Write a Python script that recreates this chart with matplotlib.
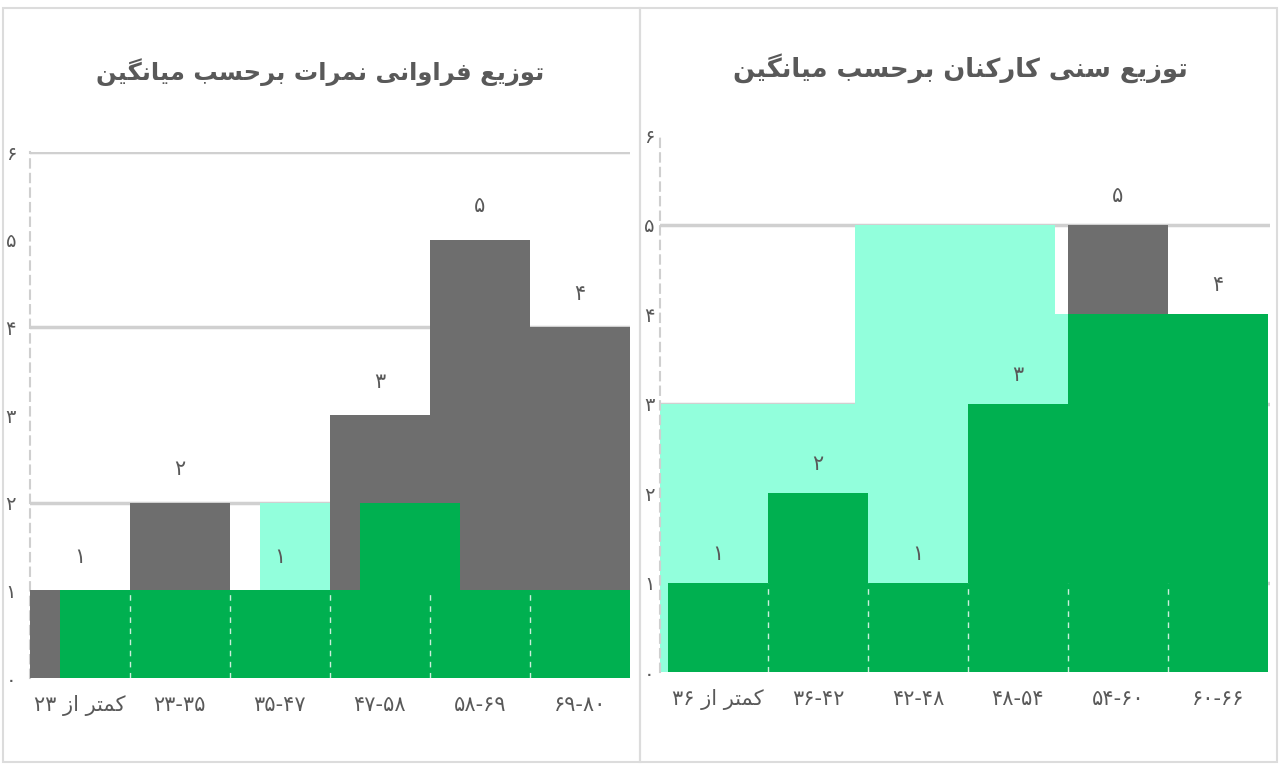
import re
import numpy as np
import matplotlib
matplotlib.use("Agg")
import matplotlib.pyplot as plt
from matplotlib.patches import Rectangle

# ---- data ----
left_title = "توزیع فراوانی نمرات برحسب میانگین"
right_title = "توزیع سنی کارکنان برحسب میانگین"
left_cats = ["کمتر از ۲۳", "۲۳-۳۵", "۳۵-۴۷", "۴۷-۵۸", "۵۸-۶۹", "۶۹-۸۰"]
right_cats = ["کمتر از ۳۶", "۳۶-۴۲", "۴۲-۴۸", "۴۸-۵۴", "۵۴-۶۰", "۶۰-۶۶"]

left_gray = [1, 2, 1, 3, 5, 4]
left_mint = [1, 1, 2, 1, 1, 1]
left_green = [1, 1, 1, 2, 1, 1]

right_gray = [1, 2, 1, 3, 5, 4]
right_mint = [3, 5, 4]
right_green = [1, 2, 1, 3, 4, 4]

yticks = [0, 1, 2, 3, 4, 5, 6]

GRAY = "#6e6e6e"
GREEN = "#00b050"
MINT = "#92ffdc"
TXT = "#595959"

# ---- minimal persian shaping (no bidi lib available) ----
DUAL = {
    'ب': '\uFE8F\uFE90\uFE91\uFE92', 'پ': '\uFB56\uFB57\uFB58\uFB59',
    'ت': '\uFE95\uFE96\uFE97\uFE98', 'ث': '\uFE99\uFE9A\uFE9B\uFE9C',
    'ج': '\uFE9D\uFE9E\uFE9F\uFEA0', 'چ': '\uFB7A\uFB7B\uFB7C\uFB7D',
    'ح': '\uFEA1\uFEA2\uFEA3\uFEA4', 'خ': '\uFEA5\uFEA6\uFEA7\uFEA8',
    'س': '\uFEB1\uFEB2\uFEB3\uFEB4', 'ش': '\uFEB5\uFEB6\uFEB7\uFEB8',
    'ع': '\uFEC9\uFECA\uFECB\uFECC', 'ف': '\uFED1\uFED2\uFED3\uFED4',
    'ق': '\uFED5\uFED6\uFED7\uFED8', 'ک': '\uFB8E\uFB8F\uFB90\uFB91',
    'گ': '\uFB92\uFB93\uFB94\uFB95', 'ل': '\uFEDD\uFEDE\uFEDF\uFEE0',
    'م': '\uFEE1\uFEE2\uFEE3\uFEE4', 'ن': '\uFEE5\uFEE6\uFEE7\uFEE8',
    'ه': '\uFEE9\uFEEA\uFEEB\uFEEC', 'ی': '\uFBFC\uFBFD\uFBFE\uFBFF',
}
RIGHT = {
    'ا': '\uFE8D\uFE8E', 'آ': '\uFE81\uFE82', 'د': '\uFEA9\uFEAA',
    'ذ': '\uFEAB\uFEAC', 'ر': '\uFEAD\uFEAE', 'ز': '\uFEAF\uFEB0',
    'ژ': '\uFB8A\uFB8B', 'و': '\uFEED\uFEEE',
}


def fa(text):
    out = []
    i = 0
    while i < len(text):
        c = text[i]
        prev = text[i - 1] if i > 0 else ''
        nxt = text[i + 1] if i + 1 < len(text) else ''
        pj = prev in DUAL
        if c == 'ل' and nxt == 'ا':
            out.append('\uFEFC' if pj else '\uFEFB')
            i += 2
            continue
        if c in DUAL:
            nj = nxt in DUAL or nxt in RIGHT
            idx = 3 if (pj and nj) else 1 if pj else 2 if nj else 0
            out.append(DUAL[c][idx])
        elif c in RIGHT:
            out.append(RIGHT[c][1 if pj else 0])
        else:
            out.append(c)
        i += 1
    s = ''.join(out)
    toks = re.findall(r'[۰-۹0-9\-.]+|[^۰-۹0-9\-.]+', s)
    vis = [t if re.match(r'[۰-۹0-9]', t) else t[::-1] for t in toks]
    return ''.join(vis[::-1])


def fnum(n):
    return str(n).translate(str.maketrans('0123456789', '۰۱۲۳۴۵۶۷۸۹'))


plt.rcParams['font.family'] = ['DejaVu Sans']

fig = plt.figure(figsize=(12.8, 7.68), dpi=100)

# panel frames
for x0 in (0.002, 0.5):
    fig.patches.append(Rectangle((x0, 0.008), 0.498, 0.982, transform=fig.transFigure,
                                 fill=False, edgecolor="#dcdcdc", lw=1.5))


def panel(ax, gray, mint, mint_left, mint_w, green, green_off, cats, grid_at, label_off):
    x = np.arange(len(gray))
    ax.bar(mint_left, mint, width=mint_w, align='edge', color=MINT, zorder=2)
    ax.bar(x, gray, width=1.0, align='edge', color=GRAY, zorder=3)
    ax.bar(x + green_off, green, width=1.0, align='edge', color=GREEN, zorder=4)
    ax.vlines(x[1:], 0, 1, colors='white', linestyles=(0, (4, 4)), lw=1, alpha=0.8, zorder=5)
    for g in grid_at:
        ax.axhline(g, color="#d0d0d0", lw=2.5, zorder=1)
    for xi, v in zip(x, gray):
        ax.text(xi + 0.5, v + label_off, fnum(v), ha='center', va='center',
                fontsize=15, color=TXT, zorder=6)
    ax.set_ylim(0, 6)
    ax.set_yticks(yticks)
    ax.set_yticklabels([fnum(t) for t in yticks], fontsize=14, color=TXT)
    ax.set_xticks(x + 0.5)
    ax.set_xticklabels([fa(c) for c in cats], fontsize=15, color=TXT)
    ax.tick_params(length=0, pad=12)
    for s in ('top', 'right', 'bottom'):
        ax.spines[s].set_visible(False)
    ax.spines['left'].set_color("#cfcfcf")
    ax.spines['left'].set_linestyle((0, (4, 3)))
    ax.spines['left'].set_linewidth(1.5)


axl = fig.add_axes([0.0234, 0.117, 0.4688, 0.685])
panel(axl, left_gray, left_mint, np.arange(6) + 0.3, 1.0, left_green, 0.3,
      left_cats, [0, 2, 4, 6], 0.38)
axl.set_xlim(0, 6)
axl.tick_params(axis='y', pad=10)

axr = fig.add_axes([0.5156, 0.125, 0.4766, 0.699])
panel(axr, right_gray, right_mint, np.arange(3) * 2 - 0.13, 2.0, right_green, 0.0,
      right_cats, [1, 3, 5], 0.32)
axr.set_xlim(-0.08, 6.02)
axr.tick_params(axis='y', pad=4)

fig.text(0.25, 0.906, fa(left_title), ha='center', va='center',
         fontsize=17.5, fontweight='bold', color=TXT)
fig.text(0.75, 0.912, fa(right_title), ha='center', va='center',
         fontsize=18.5, fontweight='bold', color=TXT)

fig.savefig("out.png", dpi=100)
